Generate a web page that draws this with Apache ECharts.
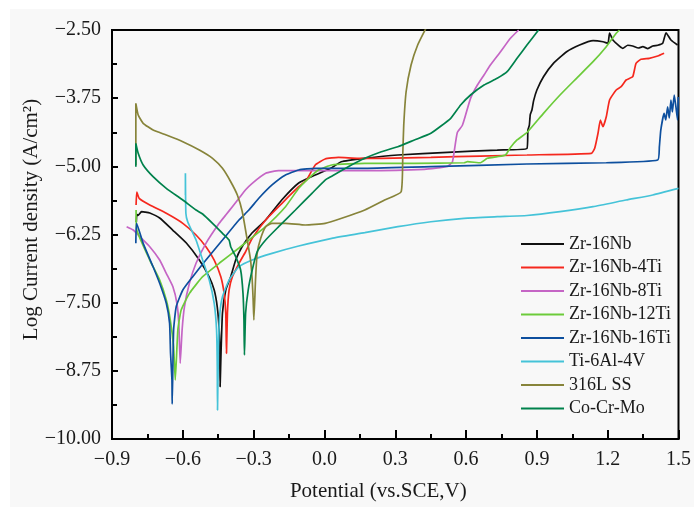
<!DOCTYPE html>
<html>
<head>
<meta charset="utf-8">
<script src="https://cdn.jsdelivr.net/npm/echarts@6/dist/echarts.min.js"></script>
<style>html,body{margin:0;padding:0;background:#fff}#c{width:694px;height:507px}</style>
</head>
<body>
<div id="c"></div>
<script>
var seriesNames = ['Zr-16Nb','Zr-16Nb-4Ti','Zr-16Nb-8Ti','Zr-16Nb-12Ti','Zr-16Nb-16Ti','Ti-6Al-4V','316L SS','Co-Cr-Mo'];
var seriesColors = ['#111111','#f5281e','#c565c5','#6ccb3a','#0d4f9e','#45c3d8','#87843a','#00824c'];
var xTicks = [-0.9,-0.6,-0.3,0.0,0.3,0.6,0.9,1.2,1.5];
var yTicks = [-10.00,-8.75,-7.50,-6.25,-5.00,-3.75,-2.50];

var zr16Nb = [[-0.797,-6.02],[-0.795,-5.88],[-0.790,-5.90],[-0.775,-5.832],[-0.760,-5.84],[-0.740,-5.856],[-0.698,-5.948],[-0.643,-6.168],[-0.585,-6.406],[-0.530,-6.718],[-0.488,-7.030],[-0.467,-7.268],[-0.454,-7.580],[-0.446,-8.002],[-0.443,-8.423],[-0.442,-9.041],[-0.438,-8.40],[-0.432,-7.690],[-0.418,-7.268],[-0.397,-7.024],[-0.376,-6.718],[-0.349,-6.474],[-0.307,-6.223],[-0.249,-5.984],[-0.181,-5.618],[-0.109,-5.306],[-0.039,-5.159],[0.029,-5.031],[0.071,-4.915],[0.171,-4.853],[0.311,-4.792],[0.521,-4.743],[0.732,-4.701],[0.858,-4.673],[0.862,-4.334],[0.868,-4.25],[0.872,-4.05],[0.879,-3.967],[0.886,-3.80],[0.900,-3.600],[0.928,-3.356],[0.970,-3.111],[1.026,-2.898],[1.081,-2.775],[1.138,-2.696],[1.180,-2.715],[1.201,-2.744],[1.208,-2.555],[1.222,-2.683],[1.264,-2.836],[1.285,-2.78],[1.306,-2.793],[1.330,-2.83],[1.349,-2.806],[1.370,-2.84],[1.391,-2.793],[1.412,-2.78],[1.433,-2.744],[1.447,-2.550],[1.468,-2.683],[1.496,-2.775]];

var zr16Nb4Ti = [[-0.798,-5.709],[-0.795,-5.471],[-0.785,-5.586],[-0.740,-5.709],[-0.670,-5.861],[-0.600,-6.045],[-0.544,-6.259],[-0.502,-6.474],[-0.467,-6.718],[-0.439,-7.024],[-0.425,-7.329],[-0.418,-7.695],[-0.415,-8.429],[-0.411,-7.695],[-0.404,-7.268],[-0.390,-7.024],[-0.362,-6.778],[-0.334,-6.566],[-0.306,-6.320],[-0.249,-5.984],[-0.180,-5.678],[-0.109,-5.374],[-0.076,-5.251],[-0.039,-4.976],[0.003,-4.866],[0.059,-4.835],[0.143,-4.853],[0.241,-4.853],[0.451,-4.835],[0.661,-4.811],[0.858,-4.792],[1.131,-4.761],[1.145,-4.669],[1.159,-4.394],[1.169,-4.150],[1.180,-4.273],[1.194,-4.090],[1.208,-3.784],[1.236,-3.600],[1.257,-3.540],[1.278,-3.417],[1.306,-3.356],[1.320,-3.111],[1.341,-3.037],[1.376,-3.019],[1.412,-2.977],[1.439,-2.927]];

var zr16Nb8Ti = [[-0.838,-6.107],[-0.810,-6.168],[-0.782,-6.291],[-0.740,-6.474],[-0.698,-6.718],[-0.670,-6.962],[-0.642,-7.208],[-0.625,-7.512],[-0.617,-7.879],[-0.611,-8.612],[-0.603,-8.002],[-0.593,-7.574],[-0.572,-7.145],[-0.544,-6.778],[-0.502,-6.412],[-0.446,-6.045],[-0.418,-5.893],[-0.390,-5.740],[-0.362,-5.586],[-0.334,-5.430],[-0.306,-5.311],[-0.249,-5.128],[-0.194,-5.080],[-0.109,-5.080],[0.171,-5.080],[0.423,-5.055],[0.521,-5.003],[0.542,-4.921],[0.550,-4.719],[0.563,-4.380],[0.584,-4.251],[0.598,-4.059],[0.619,-3.753],[0.648,-3.509],[0.676,-3.325],[0.703,-3.142],[0.746,-2.898],[0.788,-2.652],[0.823,-2.500]];

var zr16Nb12Ti = [[-0.798,-5.801],[-0.795,-6.168],[-0.740,-6.718],[-0.698,-7.085],[-0.670,-7.451],[-0.653,-7.818],[-0.639,-8.308],[-0.632,-8.918],[-0.621,-8.002],[-0.607,-7.635],[-0.572,-7.329],[-0.516,-7.024],[-0.446,-6.778],[-0.362,-6.498],[-0.320,-6.351],[-0.249,-6.107],[-0.165,-5.740],[-0.109,-5.403],[-0.067,-5.220],[-0.025,-5.067],[0.031,-4.976],[0.171,-4.945],[0.381,-4.945],[0.592,-4.934],[0.606,-4.915],[0.661,-4.934],[0.690,-4.853],[0.732,-4.823],[0.767,-4.792],[0.788,-4.655],[0.816,-4.517],[0.858,-4.380],[0.928,-4.028],[0.998,-3.692],[1.068,-3.386],[1.138,-3.081],[1.194,-2.806],[1.236,-2.561],[1.250,-2.500]];

var zr16Nb16Ti = [[-0.799,-6.412],[-0.796,-6.045],[-0.768,-6.412],[-0.726,-6.841],[-0.698,-7.145],[-0.670,-7.512],[-0.656,-7.879],[-0.652,-8.429],[-0.646,-8.918],[-0.645,-9.359],[-0.639,-8.002],[-0.628,-7.574],[-0.600,-7.268],[-0.558,-7.024],[-0.502,-6.718],[-0.432,-6.351],[-0.362,-5.984],[-0.320,-5.801],[-0.278,-5.586],[-0.222,-5.342],[-0.165,-5.159],[-0.109,-5.067],[-0.039,-5.036],[0.171,-5.036],[0.451,-5.007],[0.858,-4.957],[1.194,-4.934],[1.412,-4.884],[1.419,-4.640],[1.425,-4.334],[1.439,-4.028],[1.446,-4.150],[1.454,-3.907],[1.461,-4.114],[1.468,-3.784],[1.474,-4.004],[1.482,-3.692],[1.489,-3.907],[1.496,-4.150],[1.499,-3.729]];

var ti6Al4V = [[-0.589,-5.526],[-0.589,-5.128],[-0.587,-5.861],[-0.579,-6.021],[-0.544,-6.351],[-0.516,-6.718],[-0.488,-7.085],[-0.467,-7.512],[-0.457,-8.002],[-0.454,-8.675],[-0.453,-9.469],[-0.449,-8.308],[-0.443,-7.695],[-0.432,-7.391],[-0.404,-7.085],[-0.362,-6.841],[-0.306,-6.718],[-0.222,-6.595],[-0.109,-6.461],[0.031,-6.320],[0.171,-6.217],[0.311,-6.107],[0.451,-6.016],[0.592,-5.953],[0.732,-5.924],[0.858,-5.902],[0.998,-5.832],[1.138,-5.740],[1.278,-5.618],[1.391,-5.526],[1.500,-5.405]];

var ss316L = [[-0.799,-4.976],[-0.799,-3.844],[-0.789,-4.059],[-0.768,-4.211],[-0.726,-4.334],[-0.670,-4.426],[-0.600,-4.548],[-0.530,-4.701],[-0.474,-4.853],[-0.432,-5.037],[-0.397,-5.282],[-0.369,-5.526],[-0.348,-5.832],[-0.327,-6.351],[-0.313,-6.718],[-0.306,-7.085],[-0.302,-7.451],[-0.299,-7.818],[-0.292,-7.085],[-0.285,-6.595],[-0.270,-6.320],[-0.249,-6.107],[-0.222,-6.045],[-0.165,-6.045],[-0.081,-6.076],[0.003,-6.045],[0.073,-5.953],[0.171,-5.801],[0.255,-5.618],[0.325,-5.465],[0.332,-4.761],[0.336,-4.242],[0.346,-3.632],[0.367,-3.142],[0.395,-2.775],[0.430,-2.469]];

var coCrMo = [[-0.799,-5.007],[-0.799,-4.578],[-0.789,-4.761],[-0.768,-4.976],[-0.726,-5.190],[-0.670,-5.403],[-0.600,-5.618],[-0.544,-5.801],[-0.516,-5.874],[-0.474,-6.045],[-0.432,-6.228],[-0.404,-6.351],[-0.397,-6.474],[-0.376,-6.657],[-0.355,-6.901],[-0.345,-7.329],[-0.341,-7.818],[-0.339,-8.460],[-0.334,-7.695],[-0.323,-7.268],[-0.306,-6.901],[-0.285,-6.566],[-0.249,-6.351],[-0.194,-6.107],[-0.123,-5.801],[-0.053,-5.495],[0.003,-5.251],[0.031,-5.180],[0.101,-5.007],[0.171,-4.853],[0.241,-4.732],[0.311,-4.640],[0.381,-4.517],[0.451,-4.394],[0.535,-4.119],[0.577,-3.875],[0.619,-3.692],[0.676,-3.509],[0.732,-3.386],[0.774,-3.265],[0.816,-3.019],[0.858,-2.775],[0.907,-2.500]];

var seriesData = [zr16Nb, zr16Nb4Ti, zr16Nb8Ti, zr16Nb12Ti, zr16Nb16Ti, ti6Al4V, ss316L, coCrMo];

var FONT = "'Liberation Serif','Times New Roman',serif";
function fmt(v, d){ var s = Math.abs(v).toFixed(d); return (v < -1e-9 ? '\u2212' : '') + s; }

var chart = echarts.init(document.getElementById('c'), null, {renderer:'canvas'});
var option = {
  backgroundColor: '#ffffff',
  animation: false,
  graphic: [{type:'rect', left:10, top:9, shape:{width:684, height:498}, style:{fill:'#f8f8f8'}, z:-100, silent:true}],
  grid: {left:112, right:11, top:30, bottom:68, show:true, borderColor:'#000', borderWidth:2, backgroundColor:'transparent'},
  legend: {
    orient:'vertical', left:516, top:230, itemWidth:43, itemHeight:2, itemGap:5.5, icon:'rect',
    textStyle:{fontFamily:FONT, fontSize:18, color:'#1a1a1a'},
    data: seriesNames
  },
  xAxis: {
    type:'value', min:-0.9, max:1.5, interval:0.3,
    name:'Potential (vs.SCE,V)', nameLocation:'middle', nameGap:42,
    nameTextStyle:{fontFamily:FONT, fontSize:21, color:'#1a1a1a', padding:[0,34,0,0]},
    axisLine:{onZero:false, lineStyle:{color:'#000', width:2}},
    axisTick:{inside:true, length:9, lineStyle:{color:'#000', width:2}},
    minorTick:{show:true, splitNumber:2, length:5, lineStyle:{color:'#000', width:2}},
    splitLine:{show:false},
    axisLabel:{fontFamily:FONT, fontSize:20, color:'#1a1a1a', margin:11,
      formatter:function(v){ return fmt(v,1); }}
  },
  yAxis: {
    type:'value', min:-10, max:-2.5, interval:1.25,
    name:'Log Current density (A/cm\u00b2)', nameLocation:'middle', nameGap:70, nameRotate:90,
    nameMoveOverlap:false,
    nameTextStyle:{fontFamily:FONT, fontSize:21, color:'#1a1a1a', padding:[0,0,0,30]},
    axisLine:{onZero:false, lineStyle:{color:'#000', width:2}},
    axisTick:{inside:true, length:6, lineStyle:{color:'#000', width:2}},
    minorTick:{show:true, splitNumber:2, length:5, lineStyle:{color:'#000', width:2}},
    splitLine:{show:false},
    axisLabel:{fontFamily:FONT, fontSize:20, color:'#1a1a1a', margin:11,
      formatter:function(v){ return fmt(v,2); }}
  },
  series: seriesNames.map(function(n, i){
    return {name:n, type:'line', data:seriesData[i], symbol:'none', showSymbol:false, smooth:0.15,
      lineStyle:{width:1.7, color:seriesColors[i]}, itemStyle:{color:seriesColors[i]},
      clip:true, z: 2 + i};
  })
};
chart.setOption(option);
</script>
</body>
</html>
